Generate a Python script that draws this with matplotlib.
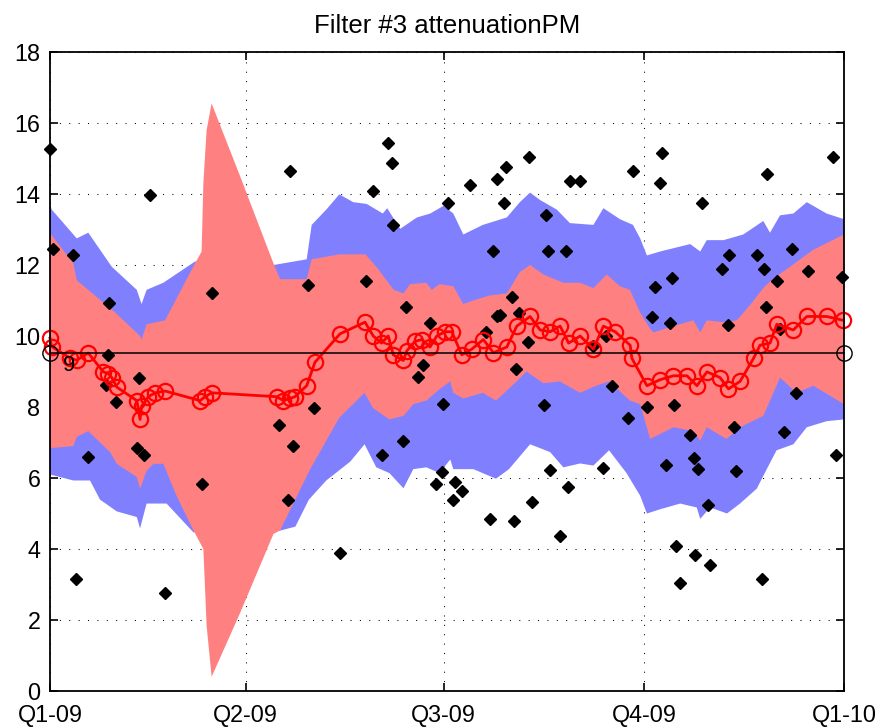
import matplotlib
matplotlib.use('Agg')
import matplotlib.pyplot as plt
import numpy as np

plt.rcParams['font.family'] = ['Liberation Sans', 'DejaVu Sans']

#x is day of year 2009 (0 = 1 Jan 2009, 365 = 1 Jan 2010)
qtick_days = [0, 90, 181, 273, 365]
qtick_labels = ['Q1-09', 'Q2-09', 'Q3-09', 'Q4-09', 'Q1-10']

#outer (blue) band
outer_hi_d = [0, 0.8, 12.3, 17.6, 28.4, 39.9, 42.1, 44.4, 52.1, 66.7, 102.8, 118, 120.3, 127, 133, 139.4,
              145.6, 153, 155, 161, 168.7, 174.8, 181, 185.4, 190, 199, 210, 216, 220.7, 225.3, 233, 239,
              249.8, 254.4, 262, 268, 271.3, 274.4, 280.5, 294.3, 298.9, 301.9, 309.6, 318.7, 327.9, 331,
              335.6, 341.7, 347.9, 357, 365]
outer_hi_v = [13.7, 13.56, 12.75, 12.91, 11.95, 11.3, 10.9, 11.3, 11.5, 12.1, 12.0, 12.16, 13.13, 13.56, 13.99,
              13.77, 13.72, 13.45, 13.6, 13.02, 13.34, 13.45, 13.67, 13.45, 12.86, 13.13, 13.34, 13.77, 14.04,
              13.83, 13.56, 13.18, 13.13, 13.6, 13.29, 13.13, 12.75, 12.27, 12.38, 12.59, 12.38, 12.7, 12.7,
              12.86, 13.24, 12.91, 13.4, 13.45, 13.77, 13.45, 13.29]
outer_lo_d = [0, 10.7, 18.4, 23, 30.7, 39.9, 41.4, 44.4, 53.6, 65.9, 102.8, 112.8, 119, 127, 138, 144.6, 150,
              156, 162.5, 167, 173, 179, 184, 185.4, 194.6, 205, 211, 220.7, 229.9, 236, 243.7, 249.8, 257,
              265, 271.3, 274.4, 280.5, 289.7, 297.3, 298.9, 303.5, 311.2, 317.2, 324.9, 329.5, 334, 341.7,
              347.9, 357, 365]
outer_lo_v = [6.1, 5.93, 5.93, 5.39, 5.06, 4.9, 4.58, 5.28, 5.28, 4.47, 4.47, 4.63, 5.39, 5.93, 6.46, 6.95, 6.3,
              6.14, 5.71, 6.25, 6.3, 6.14, 6.52, 6.25, 6.25, 5.98, 6.25, 6.95, 6.73, 6.3, 6.41, 6.35, 6.78,
              6.14, 5.5, 5.0, 5.12, 5.28, 5.17, 4.85, 5.17, 5.0, 5.28, 5.7, 6.25, 6.78, 6.95, 7.43, 7.6, 7.65]

#inner (red) band
inner_hi_d = [0, 10.7, 12.3, 30, 41.4, 42.1, 44.4, 52.9, 66.7, 69.7, 70.5, 72, 74.3, 87.4, 102.7, 105.8, 118,
              120.3, 133, 145, 150, 158, 162.5, 165.5, 173, 175.5, 179, 185.4, 190, 194.6, 202, 210, 216,
              220.7, 226.8, 236, 243.7, 249.8, 255.9, 262, 266.6, 271.3, 275.9, 277.4, 286.6, 295.8, 298.9,
              301.9, 309.6, 315.7, 321.8, 327.9, 332.5, 340.2, 350.9, 365]
inner_hi_v = [12.9, 12.05, 11.57, 10.66, 10.0, 9.9, 10.33, 10.44, 12.05, 12.38, 14.3, 15.8, 16.55, 14.5, 12.05,
              11.6, 11.6, 12.16, 12.3, 12.3, 11.95, 11.3, 11.2, 11.46, 11.5, 11.3, 11.46, 11.4, 10.9, 11.0,
              11.14, 11.2, 11.8, 12.0, 11.73, 11.5, 11.5, 11.35, 11.73, 11.4, 11.3, 10.66, 10.2, 10.1, 10.28,
              10.44, 10.1, 10.44, 10.39, 10.44, 10.87, 11.35, 11.62, 11.95, 12.43, 12.86]
inner_lo_d = [0, 10.7, 12.3, 17.6, 27.6, 30.7, 39.9, 41.4, 44.4, 47.5, 52.1, 58.2, 65.9, 70.5, 72, 74.3, 87.4,
              102.7, 105.8, 119.6, 133, 144.6, 148.5, 156, 162.5, 167, 173, 179, 184, 185.4, 190, 199, 205,
              214.5, 219, 226.8, 234.4, 243.7, 251, 257, 266.6, 271.3, 275.9, 286.6, 295.8, 298.9, 301.9,
              311, 317.2, 327.9, 335.6, 343.2, 350.9, 365]
inner_lo_v = [6.84, 6.9, 7.16, 7.32, 6.73, 6.4, 6.03, 5.7, 6.2, 6.4, 6.4, 5.5, 4.53, 4.0, 1.84, 0.4, 2.2, 4.42,
              4.53, 6.25, 7.7, 8.4, 7.97, 7.65, 7.75, 8.08, 8.18, 8.5, 8.72, 8.4, 8.24, 8.4, 8.18, 8.72, 9.0,
              8.67, 8.72, 8.4, 8.6, 8.72, 8.18, 8.08, 7.1, 7.43, 7.32, 7.05, 7.43, 7.1, 7.43, 7.75, 8.83, 8.4,
              8.6, 8.08]

#smoothed series (red circles)
smooth_d = [0, 0.8, 9.2, 12.3, 17.6, 24.5, 26.8, 28.4, 30.7, 39.9, 41.4, 42.1, 45.2, 48.3, 52.9, 69, 71.3, 74.3,
            104.2, 107.3, 110.3, 112.6, 118, 121.8, 133.3, 144.8, 148.6, 152.4, 155.5, 157.8, 162.4, 164,
            167.8, 170.9, 174.7, 177.8, 181.6, 184.7, 189.3, 193.9, 199.2, 203.8, 210, 214.6, 220.7, 225.3,
            229.9, 234.5, 238.4, 243.7, 249.8, 254.4, 259.8, 266.7, 267.5, 274.4, 280.5, 286.6, 292.8, 297.4,
            302, 308, 311.9, 317.2, 323.4, 326.4, 331, 334.1, 341.7, 347.9, 357.1, 364.7]
smooth_v = [9.94, 9.7, 9.38, 9.32, 9.52, 8.99, 8.94, 8.83, 8.56, 8.18, 7.65, 8.02, 8.29, 8.4, 8.45, 8.18, 8.29,
            8.4, 8.29, 8.18, 8.24, 8.29, 8.6, 9.26, 10.06, 10.39, 10.0, 9.8, 10.0, 9.47, 9.31, 9.58, 9.85, 9.9,
            9.69, 10.0, 10.12, 10.12, 9.47, 9.63, 9.9, 9.53, 9.69, 10.28, 10.55, 10.17, 10.12, 10.28, 9.8,
            10.0, 9.63, 10.28, 10.12, 9.74, 9.37, 8.6, 8.77, 8.88, 8.88, 8.6, 8.99, 8.83, 8.51, 8.72, 9.37,
            9.74, 9.8, 10.33, 10.17, 10.55, 10.55, 10.44]

#raw measurements (black diamonds)
raw_d = [0, 1.5, 10.7, 46, 27.3, 74.3, 26.8, 41.1, 25.6, 30.3, 17.6, 40.2, 43.2, 69.7, 12, 53,
         110.3, 155.5, 157.1, 148.7, 157.8, 183.1, 118.4, 145.1, 163.5, 174.7, 171.6, 169.1, 121.4, 180.8,
         105.4, 111.9, 162.4, 152.5, 180, 177.5, 109.6, 133.1,
         193.1, 205.7, 209.7, 220.4, 208.8, 239.1, 243.7, 268.2, 228.1, 203.8, 228.7, 237.2, 212.3, 205.7,
         206.9, 215.8, 200.5, 219.6, 249.8, 255.5, 214.2, 227.2, 258.3, 265.6, 274.4, 186.2, 189.3, 185.4,
         229.9, 254.4, 237.9, 221.4, 202.3, 213.3, 234.5,
         281.2, 280.2, 329.8, 360.1, 299.6, 312.3, 325.2, 341, 308.8, 328.3, 348.3, 278.3, 285.9, 334.4,
         364.2, 329.1, 276.6, 284.8, 311.8, 335.8, 343, 286.9, 314.6, 337.4, 294, 361.4, 283.2, 296.1,
         298.1, 315.4, 302.4, 288, 296.3, 303.4, 289.6, 327.4]
raw_v = [15.26, 12.46, 12.27, 13.97, 10.92, 11.21, 9.47, 8.81, 8.63, 8.13, 6.59, 6.84, 6.66, 5.82, 3.16, 2.77,
         14.66, 15.44, 14.87, 14.08, 13.13, 13.74, 11.44, 11.55, 10.82, 10.38, 9.19, 8.85, 7.97, 8.08,
         7.5, 6.89, 7.05, 6.66, 6.16, 5.84, 5.37, 3.9,
         14.26, 14.42, 14.76, 15.04, 13.74, 14.37, 14.37, 14.66, 13.42, 12.4, 12.4, 12.4, 11.11, 10.55,
         10.6, 10.66, 10.1, 9.82, 9.71, 9.99, 9.08, 8.05, 8.58, 7.68, 8.01, 5.9, 5.63, 5.37,
         6.22, 6.27, 5.76, 5.31, 4.85, 4.8, 4.37,
         15.15, 14.31, 14.55, 15.04, 13.74, 12.29, 12.29, 12.46, 11.89, 11.89, 11.84, 11.37, 11.62, 11.55,
         11.66, 10.82, 10.53, 10.37, 10.31, 10.2, 8.4, 8.05, 7.43, 7.29, 7.22, 6.66, 6.38, 6.55,
         6.25, 6.19, 5.25, 4.08, 3.83, 3.56, 3.05, 3.16]

#yearly mean line and its label
mean_d = [0, 365]
mean_v = [9.53, 9.53]
mean_label = '9'

fig = plt.figure(figsize=(8.8, 7.28), dpi=100)
ax = fig.add_axes([50/880., 1-691/728., 794/880., 639/728.])

#bands: polygon = upper edge forward + lower edge back
ax.fill(np.concatenate([outer_hi_d, outer_lo_d[::-1]]), np.concatenate([outer_hi_v, outer_lo_v[::-1]]),
        color='#8080ff', lw=0, zorder=2)
ax.fill(np.concatenate([inner_hi_d, inner_lo_d[::-1]]), np.concatenate([inner_hi_v, inner_lo_v[::-1]]),
        color='#ff8080', lw=0, zorder=3)

ax.plot(raw_d, raw_v, ls='none', marker='D', ms=6, color='k', zorder=4, clip_on=False)
ax.plot(smooth_d, smooth_v, color='r', lw=2.0, marker='o', ms=11, mfc='none', mec='r', mew=1.6,
        zorder=5, clip_on=False)
ax.plot(mean_d, mean_v, color='k', lw=1.1, marker='o', ms=11, mfc='none', mec='k', mew=1.0,
        zorder=6, clip_on=False)
ax.text(8.7, 9.18, mean_label, fontsize=16, ha='center', va='center', zorder=7)

ax.set_xlim(0, 365)
ax.set_ylim(0, 18)
ax.set_xticks(qtick_days)
ax.set_xticklabels(qtick_labels)
ax.set_yticks(np.arange(0, 19, 2))

#matlab-ish box, inward ticks on all sides, dotted grid under the fills
ax.set_axisbelow(True)
ax.grid(True, color='k', ls=(0, (1, 8)), lw=0.75)
ax.tick_params(direction='in', length=5.5, width=1.2, top=True, right=True, labelsize=16.8, pad=7)
ax.tick_params(axis='x', pad=9.5)
#nudge the "0" label up a touch so it sits clear of "Q1-09" like the original
for lab in ax.get_yticklabels():
    if lab.get_text() == '0':
        lab.set_verticalalignment('center_baseline')
for s in ax.spines.values():
    s.set_linewidth(1.3)
    s.set_zorder(8)

ax.set_title('Filter #3 attenuationPM', fontsize=18.5, pad=14)

plt.savefig('out.png', dpi=100)
